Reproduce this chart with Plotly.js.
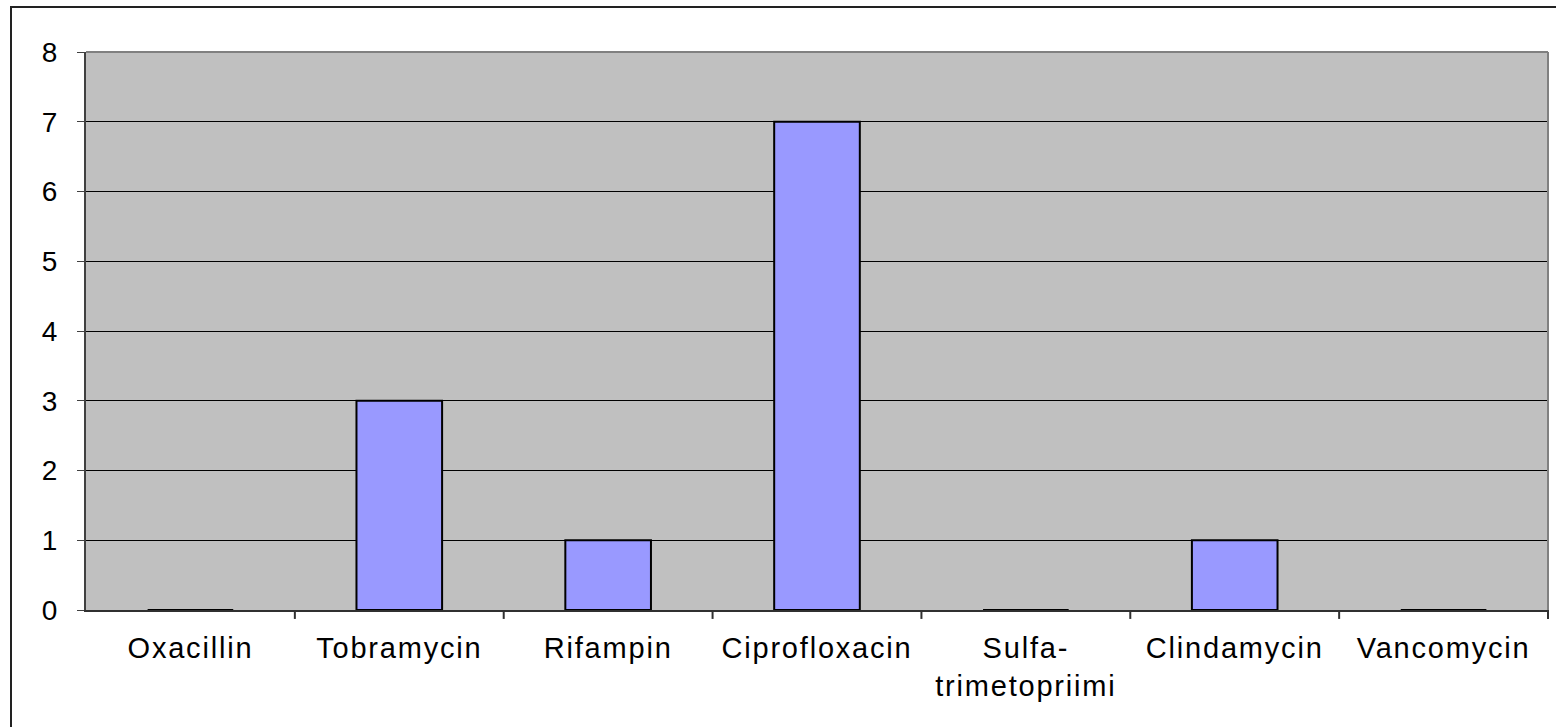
<!DOCTYPE html>
<html>
<head>
<meta charset="utf-8">
<script src="https://cdn.plot.ly/plotly-3.0.1.min.js"></script>
<style>
html,body{margin:0;padding:0;background:#fff;overflow:hidden;}
#frame{position:absolute;left:10px;top:6px;width:1600px;height:800px;border-left:2px solid #222;border-top:2px solid #222;box-sizing:border-box;}
#chart{position:absolute;left:0;top:0;width:1556px;height:727px;}
#chart .xtick text{letter-spacing:1.8px;}
#chart .ytick text{letter-spacing:1px;}
</style>
</head>
<body>
<div id="frame"></div>
<div id="chart"></div>
<script>
const categories = ["Oxacillin", "Tobramycin", "Rifampin", "Ciprofloxacin", "Sulfa-<br>trimetopriimi", "Clindamycin", "Vancomycin"];
const values = [0, 3, 1, 7, 0, 1, 0];
const yTicks = [0, 1, 2, 3, 4, 5, 6, 7, 8];

const trace = {
  type: 'bar',
  x: categories,
  y: values,
  marker: {color: '#9999FF', line: {color: '#000000', width: 2}},
  hoverinfo: 'none'
};

const layout = {
  width: 1556, height: 727,
  margin: {l: 86, r: 8, t: 52, b: 117, pad: 0},
  paper_bgcolor: 'rgba(0,0,0,0)',
  plot_bgcolor: '#C0C0C0',
  bargap: 0.59,
  showlegend: false,
  font: {family: 'Liberation Sans, Arial, sans-serif', size: 20, color: '#000'},
  xaxis: {
    type: 'category',
    showgrid: false,
    showline: true, linecolor: '#303030', linewidth: 2,
    ticks: 'outside', ticklen: 0,
    tickfont: {size: 29, color: '#000'},
    ticklabelstandoff: 11,
    mirror: false
  },
  yaxis: {
    range: [0, 8],
    tickvals: yTicks,
    ticktext: yTicks.map(String),
    showgrid: true, gridcolor: '#000000', gridwidth: 1,
    showline: true, linecolor: '#404040', linewidth: 2,
    ticks: 'outside', ticklen: 7, tickcolor: '#404040',
    tickfont: {size: 28, color: '#000'},
    ticklabelstandoff: 13,
    zeroline: false
  },
  shapes: []
};

// category boundary tick marks below x axis
for (let i = 1; i <= categories.length; i++) {
  layout.shapes.push({
    type: 'line', xref: 'paper', yref: 'paper',
    x0: i / categories.length, x1: i / categories.length,
    y0: 0, y1: -0.016,
    line: {color: '#303030', width: 2}
  });
}
// top and right plot border (gray)
layout.shapes.push({type: 'line', xref: 'paper', yref: 'paper', x0: 0, x1: 1, y0: 1, y1: 1, line: {color: '#808080', width: 2}});
layout.shapes.push({type: 'line', xref: 'paper', yref: 'paper', x0: 1, x1: 1, y0: 0, y1: 1, line: {color: '#808080', width: 2}});

Plotly.newPlot('chart', [trace], layout, {staticPlot: true, displayModeBar: false});
</script>
</body>
</html>
